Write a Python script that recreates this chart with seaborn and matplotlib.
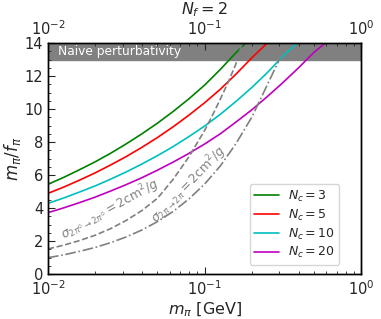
import numpy as np
import pandas as pd
import matplotlib
matplotlib.use("Agg")
import matplotlib.pyplot as plt
import seaborn as sns
from matplotlib.ticker import MultipleLocator

# --- values ---
nc_labels = ["$N_c = 3$", "$N_c = 5$", "$N_c = 10$", "$N_c = 20$"]
nc_colors = ["green", "red", "c", "m"]

m_nc3 = [0.01, 0.0126, 0.0158, 0.02, 0.0251, 0.0316, 0.0398, 0.0501, 0.0631, 0.0794,
         0.1, 0.126, 0.158, 0.183]
y_nc3 = [5.44, 5.86, 6.31, 6.80, 7.32, 7.89, 8.50, 9.15, 9.86, 10.62,
         11.45, 12.4, 13.4, 14.0]

m_nc5 = [0.01, 0.0126, 0.0158, 0.02, 0.0251, 0.0316, 0.0398, 0.0501, 0.0631, 0.0794,
         0.1, 0.126, 0.158, 0.2, 0.251]
y_nc5 = [4.89, 5.27, 5.68, 6.13, 6.61, 7.12, 7.68, 8.28, 8.93, 9.63,
         10.38, 11.2, 12.1, 13.1, 14.0]

m_nc10 = [0.01, 0.0126, 0.0158, 0.02, 0.0251, 0.0316, 0.0398, 0.0501, 0.0631, 0.0794,
          0.1, 0.126, 0.158, 0.2, 0.251, 0.316, 0.39]
y_nc10 = [4.28, 4.61, 4.96, 5.34, 5.75, 6.19, 6.67, 7.18, 7.73, 8.33,
          8.97, 9.68, 10.45, 11.3, 12.2, 13.2, 14.0]

m_nc20 = [0.01, 0.0126, 0.0158, 0.02, 0.0251, 0.0316, 0.0398, 0.0501, 0.0631, 0.0794,
          0.1, 0.126, 0.158, 0.2, 0.251, 0.316, 0.398, 0.501, 0.59]
y_nc20 = [3.72, 4.01, 4.32, 4.66, 5.03, 5.42, 5.84, 6.30, 6.79, 7.31,
          7.88, 8.5, 9.2, 9.95, 10.75, 11.6, 12.5, 13.45, 14.0]

# sigma(2pi0 -> 2pi0) = 2 cm^2/g  (dashed)
m_pi0 = [0.01, 0.0126, 0.0158, 0.02, 0.0251, 0.0316, 0.0398, 0.0501, 0.0631, 0.0794,
         0.1, 0.112, 0.126, 0.141, 0.158, 0.174]
y_pi0 = [1.52, 1.75, 2.02, 2.35, 2.75, 3.25, 3.85, 4.6, 5.75, 7.1,
         8.7, 9.6, 10.6, 11.6, 12.7, 14.0]

# sigma(2pi -> 2pi) = 2 cm^2/g  (dash-dot)
m_pi = [0.01, 0.0126, 0.0158, 0.02, 0.0251, 0.0316, 0.0398, 0.0501, 0.0631, 0.0794,
        0.1, 0.126, 0.158, 0.2, 0.251, 0.3, 0.32]
y_pi = [0.99, 1.16, 1.37, 1.61, 1.90, 2.25, 2.67, 3.18, 3.8, 4.55,
        5.45, 6.55, 7.88, 9.5, 11.45, 13.0, 14.0]

nc_m = [m_nc3, m_nc5, m_nc10, m_nc20]
nc_y = [y_nc3, y_nc5, y_nc10, y_nc20]

sns.set_style("ticks")
plt.rcParams["font.family"] = ["DejaVu Sans"]
plt.rcParams["mathtext.fontset"] = "dejavusans"

fig = plt.figure(figsize=(3.81, 3.19), dpi=100)
ax = fig.add_axes([0.126, 0.141, 0.822, 0.724])

ax.axhspan(13, 14, color="gray", zorder=0)
ax.text(0.0115, 13.5, "Naive perturbativity", color="white", fontsize=8.8,
        va="center", ha="left")

for xs, ys, lab, col in zip(nc_m, nc_y, nc_labels, nc_colors):
    sns.lineplot(x=xs, y=ys, color=col, label=lab, lw=1.2, ax=ax)

sns.lineplot(x=m_pi0, y=y_pi0, color="gray", lw=1.2, ax=ax)
ax.lines[-1].set_linestyle("--")
sns.lineplot(x=m_pi, y=y_pi, color="gray", lw=1.2, ax=ax)
ax.lines[-1].set_linestyle("-.")

ax.text(0.0127, 2.05, r"$\sigma_{2\pi^0\to 2\pi^0} = 2\mathrm{cm}^2/g$", color="gray",
        fontsize=8.8, rotation=29, rotation_mode="anchor", ha="left", va="baseline")
ax.text(0.0495, 3.05, r"$\sigma_{2\pi\to 2\pi} = 2\mathrm{cm}^2/g$", color="gray",
        fontsize=8.8, rotation=46, rotation_mode="anchor", ha="left", va="baseline")

ax.set_xscale("log")
ax.set_xlim(0.01, 1)
ax.set_ylim(0, 14)
ax.yaxis.set_major_locator(MultipleLocator(2))
ax.yaxis.set_minor_locator(MultipleLocator(0.5))
ax.tick_params(which="both", direction="in", top=False, right=False, labelsize=10.5)
ax.tick_params(which="major", length=5)
ax.tick_params(which="minor", length=2.5)
ax.set_xlabel(r"$m_\pi$ [GeV]", fontsize=11.5, labelpad=2)
ax.set_ylabel(r"$m_\pi/f_\pi$", fontsize=12, labelpad=1)

top = ax.twiny()
top.set_xscale("log")
top.set_xlim(0.01, 1)
top.tick_params(which="both", direction="in", labelsize=10.5)
top.tick_params(which="major", length=5)
top.tick_params(which="minor", length=2.5)
top.set_xlabel(r"$N_f = 2$", fontsize=11.5, labelpad=4)

leg = ax.legend(loc="lower right", bbox_to_anchor=(0.93, 0.04), borderaxespad=0,
                fontsize=9, handlelength=2.0, frameon=True, borderpad=0.35,
                labelspacing=0.3, handletextpad=0.7)

for a in (ax, top):
    for s in a.spines.values():
        s.set_color("black")
        s.set_linewidth(1.0)

fig.savefig("out.png", dpi=100)
